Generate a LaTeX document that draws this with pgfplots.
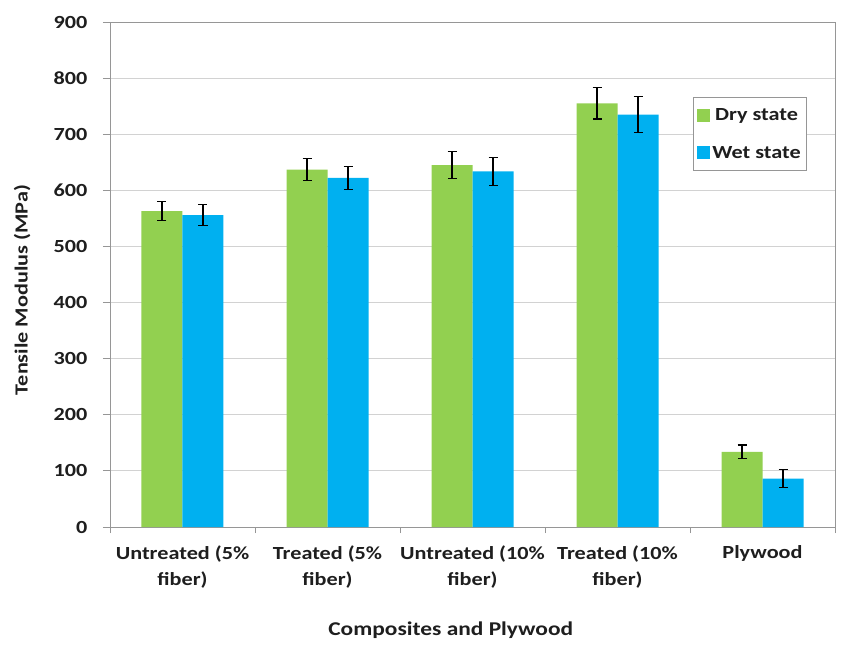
\documentclass[border=0pt]{standalone}
\usepackage{fontspec}
\setmainfont{Carlito}[FakeStretch=1.2]
\usepackage{pgfplots}
\pgfplotsset{compat=1.18}

\definecolor{drygreen}{RGB}{146,208,80}
\definecolor{wetblue}{RGB}{0,176,240}
\definecolor{axisgray}{RGB}{150,150,150}
\definecolor{gridgray}{RGB}{210,210,210}
\definecolor{txt}{RGB}{30,30,30}

\begin{document}
\begin{tikzpicture}
\useasboundingbox (-110pt,-118pt) rectangle (739pt,527pt);
\begin{axis}[
  at={(0pt,0pt)}, anchor=south west,
  scale only axis,
  width=725pt, height=505pt,
  ybar=0pt, bar width=41pt,
  xmin=-0.5, xmax=4.5,
  ymin=0, ymax=900,
  ytick={0,100,...,900},
  xtick={0,1,2,3,4},
  xticklabels={{Untreated (5\%\\fiber)},{Treated (5\%\\fiber)},{Untreated (10\%\\fiber)},{Treated (10\%\\fiber)},{Plywood}},
  minor xtick={-0.5,0.5,...,4.5},
  major x tick style={draw=none},
  tick align=outside,
  tickwidth=7pt, minor tick length=6pt,
  x tick style={axisgray, line width=0.8pt},
  y tick style={axisgray, line width=0.8pt},
  xtick pos=bottom, ytick pos=left,
  ymajorgrids, grid style={gridgray, line width=1pt},
  axis line style={axisgray, line width=0.8pt},
  /pgf/number format/assume math mode=true,
  tick label style={font=\bfseries\fontsize{18.5}{26}\selectfont, text=txt},
  yticklabel style={xshift=-12pt},
  xticklabel style={align=center, yshift=-8pt},
  xlabel={Composites and Plywood},
  ylabel={Tensile Modulus (MPa)},
  xlabel style={font=\bfseries\fontsize{19.5}{24}\selectfont, text=txt,
    at={(axis description cs:0.470,-0.214)}, anchor=base},
  ylabel style={font=\bfseries\fontsize{18.5}{24}\selectfont, text=txt,
    at={(axis description cs:-0.121,0.469)}, anchor=center},
  legend style={at={(0.804,0.851)}, anchor=north west, draw=axisgray, line width=0.8pt,
    fill=white, font=\bfseries\fontsize{18.5}{22}\selectfont, text=txt,
    inner xsep=4pt, inner ysep=9pt, row sep=20pt},
  legend image code/.code={\fill[#1] (0pt,-6.5pt) rectangle (13pt,6.5pt);},
  error bars/error bar style={black, line width=1.2pt},
  error bars/error mark options={rotate=90, mark size=4.5pt, line width=1.2pt, black},
]
\addplot[fill=drygreen, draw=none,
  error bars/.cd, y dir=both, y explicit]
  coordinates {(0,563) +- (0,17) (1,637) +- (0,20) (2,645) +- (0,24) (3,755) +- (0,28) (4,134) +- (0,12)};
\addplot[fill=wetblue, draw=none,
  error bars/.cd, y dir=both, y explicit]
  coordinates {(0,556) +- (0,19) (1,622) +- (0,21) (2,634) +- (0,25) (3,735) +- (0,32) (4,86) +- (0,16)};
\legend{Dry state, Wet state}
\end{axis}
\end{tikzpicture}
\end{document}
